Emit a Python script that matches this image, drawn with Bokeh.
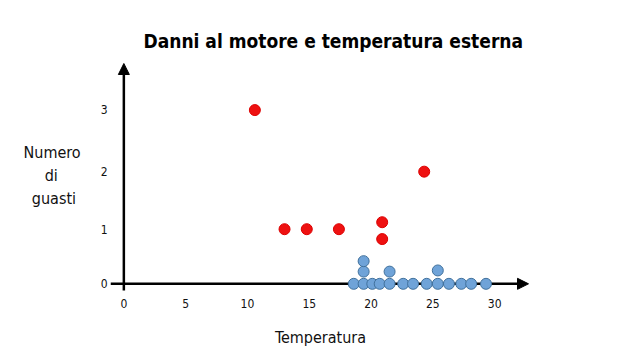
from bokeh.plotting import figure
from bokeh.models import Arrow, NormalHead, FixedTicker, Range1d
from bokeh.embed import file_html
from bokeh.resources import INLINE

# ---- data ----
temp_fail = [10.6, 13.0, 14.8, 17.4, 20.9, 20.9, 24.3]
fail_y = [2.99, 0.94, 0.94, 0.94, 1.06, 0.77, 1.93]
temp_ok = [18.6, 19.4, 19.4, 19.4, 20.1, 20.7, 21.5, 21.5, 22.6, 23.4,
           24.5, 25.4, 25.4, 26.3, 27.3, 28.1, 29.3]
ok_y = [0, 0, 0.21, 0.39, 0, 0, 0, 0.21, 0, 0, 0, 0, 0.23, 0, 0, 0, 0]
x_ticks = [0, 5, 10, 15, 20, 25, 30]
y_tick_pos = [0, 0.94, 1.94, 3.0]
y_tick_labels = ["0", "1", "2", "3"]

title_text = "Danni al motore e temperatura esterna"
y_label_lines = ["Numero", "di", "guasti"]
x_label = "Temperatura"

FONT = "DejaVu Sans Condensed"

# ---- layout ----
W, H = 638, 359
FL, FR, FT, FB = 110, 108, 60, 69
X0, X1 = -1.08, 32.9
Y0, Y1 = -0.115, 3.843
SX = (W - FL - FR) / (X1 - X0)
SY = (H - FT - FB) / (Y1 - Y0)


def dx(px):
    return X0 + (px - FL) / SX


def dy(py):
    return Y1 - (py - FT) / SY


p = figure(width=W, height=H, output_backend="svg", toolbar_location=None,
           x_range=Range1d(X0, X1), y_range=Range1d(Y0, Y1),
           min_border_left=FL, min_border_right=FR,
           min_border_top=FT, min_border_bottom=FB)
p.grid.visible = False
p.outline_line_color = None
p.background_fill_color = "white"
p.border_fill_color = "white"

p.title.text = title_text
p.title.align = "left"
p.title.offset = 33
p.title.standoff = 17
p.title.text_font = FONT
p.title.text_font_style = "bold"
p.title.text_font_size = "19px"
p.title.text_color = "black"

for ax in (p.xaxis[0], p.yaxis[0]):
    ax.axis_line_color = None
    ax.major_tick_line_color = None
    ax.minor_tick_line_color = None
    ax.major_label_text_font = FONT
    ax.major_label_text_font_size = "12px"
    ax.major_label_text_color = "#111111"
    ax.axis_label_text_font = FONT
    ax.axis_label_text_font_style = "normal"
    ax.axis_label_text_color = "#111111"

p.xaxis.ticker = FixedTicker(ticks=x_ticks)
p.xaxis.major_label_standoff = 2
p.xaxis.axis_label = x_label
p.xaxis.axis_label_text_font_size = "16px"
p.xaxis.axis_label_standoff = 17

# the multi-line label is right-aligned by the axis; pad shorter lines with
# no-break spaces so that they sit centred under "Numero"
NB = "\u00a0"
y_label = "\n".join([y_label_lines[0], y_label_lines[1] + NB * 5,
                     y_label_lines[2] + NB * 1])

p.yaxis.ticker = FixedTicker(ticks=y_tick_pos)
p.yaxis.major_label_overrides = {t: l for t, l in zip(y_tick_pos, y_tick_labels)}
p.yaxis.major_label_standoff = -3
p.yaxis.axis_label = y_label
p.yaxis.axis_label_text_font_size = "16px"
p.yaxis.axis_label_text_line_height = 1.2
p.yaxis.axis_label_standoff = 17
p.yaxis.axis_label_orientation = "horizontal"

# axis arrows
p.add_layout(Arrow(end=NormalHead(size=11, fill_color="black", line_color="black"),
                   x_start=dx(110), y_start=0, x_end=dx(528), y_end=0,
                   line_width=2.5, line_color="black", level="underlay"))
p.add_layout(Arrow(end=NormalHead(size=11, fill_color="black", line_color="black"),
                   x_start=0, y_start=dy(291), x_end=0, y_end=dy(63),
                   line_width=2.5, line_color="black", level="underlay"))

p.scatter(temp_ok, ok_y, size=11, fill_color="#6fa3d8", line_color="#41719c",
          line_width=1)
p.scatter(temp_fail, fail_y, size=11, fill_color="#ee1111", line_color="#dd0000",
          line_width=1)

open("out.html", "w").write(file_html(p, INLINE))
